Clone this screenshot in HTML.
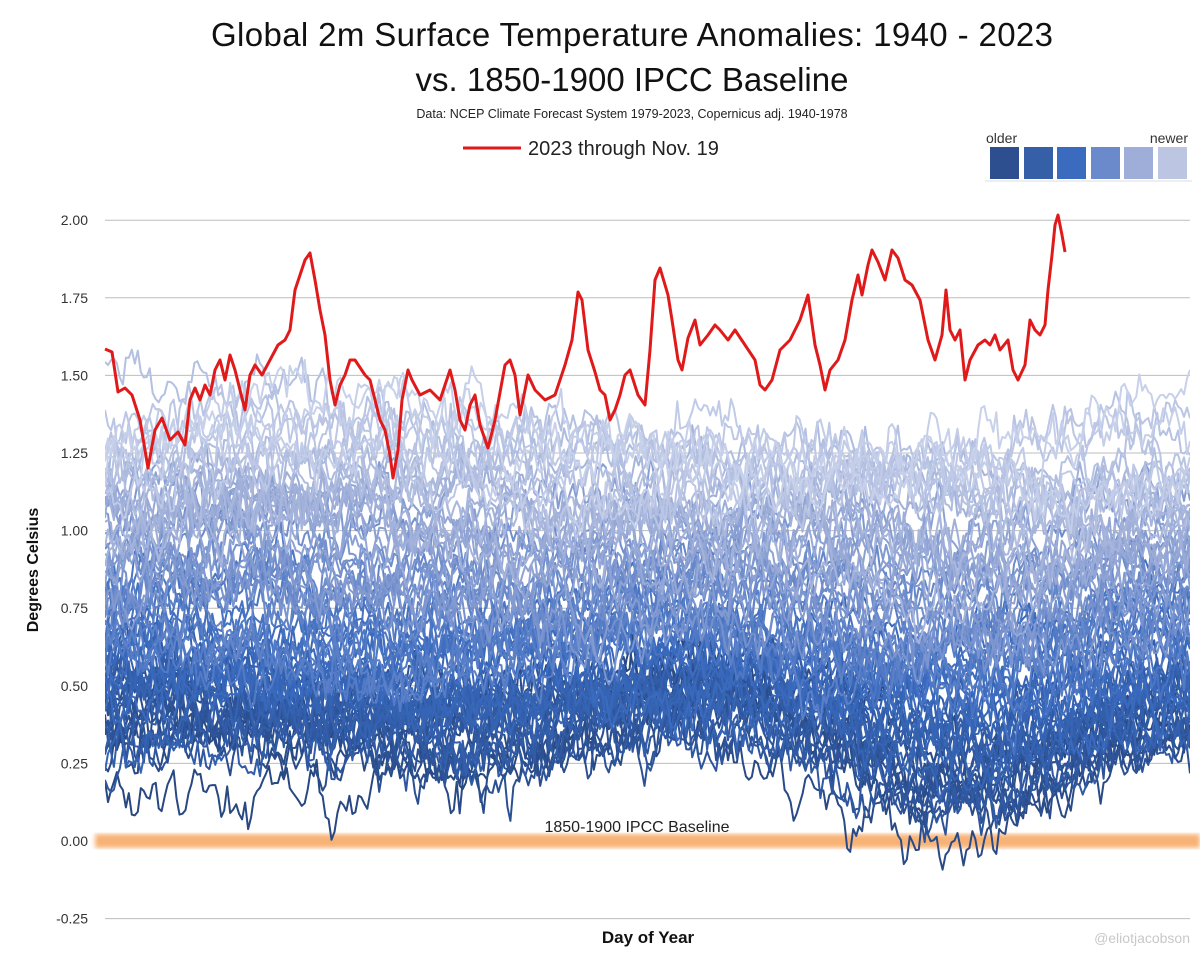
<!DOCTYPE html>
<html><head><meta charset="utf-8"><style>
body{margin:0;background:#fff;width:1200px;height:954px;overflow:hidden;font-family:"Liberation Sans",sans-serif}
</style></head><body>
<svg id="s" width="1200" height="954" xmlns="http://www.w3.org/2000/svg" font-family="Liberation Sans, sans-serif">
<defs><clipPath id="c"><rect x="105" y="200" width="1085" height="720"/></clipPath>
<filter id="b"><feGaussianBlur stdDeviation="2.5"/></filter></defs>
<text x="632" y="46" font-size="33" text-anchor="middle" fill="#111" textLength="842">Global 2m Surface Temperature Anomalies: 1940 - 2023</text>
<text x="632" y="91" font-size="33" text-anchor="middle" fill="#111">vs. 1850-1900 IPCC Baseline</text>
<text x="632" y="118" font-size="12.5" text-anchor="middle" fill="#222">Data: NCEP Climate Forecast System 1979-2023, Copernicus adj. 1940-1978</text>
<line x1="463" y1="148" x2="521" y2="148" stroke="#e01a1a" stroke-width="3"/>
<text x="528" y="155" font-size="20" fill="#222">2023 through Nov. 19</text>
<text x="986" y="143" font-size="14" fill="#333">older</text>
<text x="1188" y="143" font-size="14" fill="#333" text-anchor="end">newer</text>
<line x1="985" y1="181" x2="1192" y2="181" stroke="#eee" stroke-width="2"/>
<rect x="990" y="147" width="29" height="32" fill="#2d4f8f"/>
<rect x="1024" y="147" width="29" height="32" fill="#3560a8"/>
<rect x="1057" y="147" width="29" height="32" fill="#3a6bbf"/>
<rect x="1091" y="147" width="29" height="32" fill="#6b8acb"/>
<rect x="1124" y="147" width="29" height="32" fill="#9eaed8"/>
<rect x="1158" y="147" width="29" height="32" fill="#bcc6e3"/>
<g id="grid" stroke="#bdbdbd" stroke-width="1"></g>
<g id="ticks" font-size="14" fill="#333" text-anchor="end"></g>
<rect x="95" y="834" width="1105" height="14" fill="#f7b274" filter="url(#b)"/>
<g id="lines" clip-path="url(#c)" fill="none" stroke-width="2" stroke-linejoin="round"></g>
<text x="637" y="832" font-size="16" text-anchor="middle" fill="#222">1850-1900 IPCC Baseline</text>
<polyline id="red" fill="none" stroke="#e01a1a" stroke-width="3" stroke-linejoin="round"/>
<text x="38" y="570" font-size="16" font-weight="bold" text-anchor="middle" transform="rotate(-90 38 570)" fill="#111">Degrees Celsius</text>
<text x="648" y="943" font-size="17" font-weight="bold" text-anchor="middle" fill="#111">Day of Year</text>
<text x="1190" y="943" font-size="14" text-anchor="end" fill="#c8c8c8">@eliotjacobson</text>
</svg>
<script>
var NS="http://www.w3.org/2000/svg";
function Y(v){return 841-v*310.4;}
var g=document.getElementById("grid"),t=document.getElementById("ticks");
for(var k=-1;k<=8;k++){var v=k*0.25,y=Y(v);
var l=document.createElementNS(NS,"line");l.setAttribute("x1",105);l.setAttribute("x2",1190);l.setAttribute("y1",y);l.setAttribute("y2",y);g.appendChild(l);
var tx=document.createElementNS(NS,"text");tx.setAttribute("x",88);tx.setAttribute("y",y+5);tx.textContent=v.toFixed(2);t.appendChild(tx);}
var seed=12345;function r(){seed=(seed*16807)%2147483647;return seed/2147483647;}
function n(){return (r()+r()+r()-1.5)*1.4;}
var pal=[[40,72,130],[48,90,165],[58,107,191],[107,138,203],[158,174,216],[200,209,234]];
function colr(f){var p=f*5,i=Math.min(4,Math.floor(p)),u=p-i;return [0,1,2].map(function(j){return Math.round(pal[i][j]+(pal[i+1][j]-pal[i][j])*u);});}
var L=document.getElementById("lines");
var N=83;
for(var i=0;i<N;i++){var f=i/(N-1);
var m=0.33+0.95*Math.pow(f,1.5)+n()*0.05;
var col=colr(f);
var a=n()*0.15,b=n()*0.06,pts=[];
for(var d=0;d<365;d++){a=0.98*a+n()*0.022;b=0.6*b+n()*0.05;
var x=105+d*1085/364;
var s=0.07*Math.cos((d-20)/365*2*Math.PI*2)*(1-f)-0.08*Math.exp(-Math.pow((d-285)/45,2))*(1-f)+0.15*f*f*Math.exp(-Math.pow((d-60)/70,2));
var v=m+a+b+s;pts.push(x.toFixed(1)+","+Y(v).toFixed(1));}
var p=document.createElementNS(NS,"polyline");p.setAttribute("points",pts.join(" "));p.setAttribute("stroke","rgb("+col+")");L.appendChild(p);}
document.getElementById("red").setAttribute("points","105,349 112,352 118,392 125,388 132,395 140,420 148,468 155,430 162,418 170,440 178,432 185,445 190,400 195,388 200,400 205,385 210,395 215,370 220,360 225,380 230,355 235,370 240,390 245,410 250,375 255,365 262,375 270,360 278,345 285,340 290,330 295,290 300,275 305,260 310,253 315,280 320,310 325,335 330,380 335,405 340,385 345,375 350,360 355,360 365,375 370,380 375,400 380,420 385,430 390,455 393,478 398,450 402,400 408,370 412,380 420,395 430,390 440,400 450,370 455,390 460,420 465,430 470,405 475,395 480,425 488,448 495,420 505,365 510,360 515,375 520,415 528,375 535,390 545,400 555,395 565,365 572,340 578,292 582,300 588,350 595,372 600,390 605,395 610,420 615,410 620,395 625,375 630,370 638,395 645,405 650,350 655,280 660,268 668,295 672,320 678,360 682,370 688,338 695,320 700,345 708,335 715,325 720,330 728,340 735,330 745,345 755,360 760,385 765,390 772,380 780,350 790,340 800,320 808,295 815,345 820,365 825,390 830,370 838,360 845,340 852,300 858,275 862,295 868,265 872,250 878,262 885,280 892,250 898,258 905,280 912,285 920,300 928,340 935,360 942,335 946,290 950,330 955,340 960,330 965,380 970,360 978,345 985,340 990,345 995,335 1000,350 1008,340 1013,370 1018,380 1025,365 1030,320 1035,330 1040,335 1045,325 1048,290 1052,255 1055,225 1058,215 1062,235 1065,252");
</script>
</body></html>
